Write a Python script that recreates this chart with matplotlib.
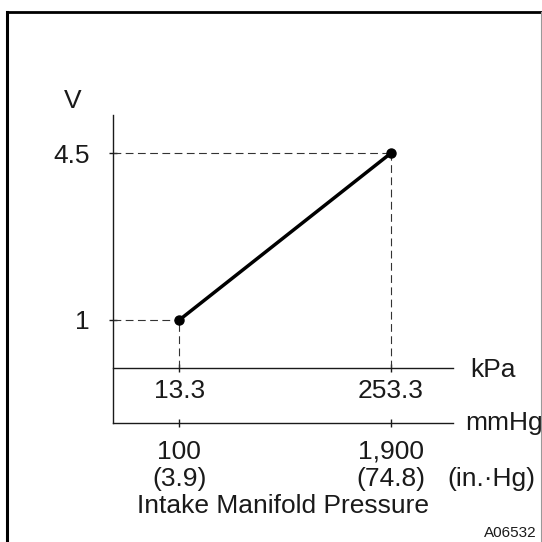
import matplotlib
matplotlib.use("Agg")
import matplotlib.pyplot as plt
from matplotlib.lines import Line2D

# values
kpa = [13.3, 253.3]
volts = [1, 4.5]
kpa_labels = ["13.3", "253.3"]
mmhg_labels = ["100", "1,900"]
inhg_labels = ["3.9", "74.8"]
volt_labels = ["1", "4.5"]

plt.rcParams['font.family'] = ['Liberation Sans', 'DejaVu Sans']
ink = '#1a1a1a'
fs = 19

fig = plt.figure(figsize=(5.42, 5.42), dpi=100)
ax = fig.add_axes([113 / 542, 119 / 542, 340 / 542, 308 / 542])
ax.set_xlim(-62.0, 324.0)
ax.set_ylim(-1.163, 5.304)

# dashed guides to each point
x0 = ax.get_xlim()[0]
for x, v in zip(kpa, volts):
    ax.plot([x0, x], [v, v], color='#333333', lw=0.8, ls=(0, (7, 4)))
    ax.plot([x, x], [0, v], color='#333333', lw=0.8, ls=(0, (7, 4)))

ax.plot(kpa, volts, color='black', lw=2.5, marker='o', ms=6.5,
        solid_capstyle='round')

for s in ['top', 'right']:
    ax.spines[s].set_visible(False)
ax.spines['bottom'].set_position(('data', 0))
ax.spines['bottom'].set_linewidth(1.0)
ax.spines['left'].set_linewidth(1.0)
ax.spines['bottom'].set_color(ink)
ax.spines['left'].set_color(ink)

ax.set_xticks(kpa, labels=kpa_labels)
ax.set_yticks(volts, labels=volt_labels)
ax.tick_params(axis='x', direction='inout', length=6, width=1, pad=5,
               labelsize=fs, colors=ink)
ax.tick_params(axis='y', direction='inout', length=6, width=1, pad=14,
               labelsize=fs, colors=ink)

# second scale (mmHg / in.Hg) under the kPa scale
ax2 = ax.twiny()
ax2.set_xlim(ax.get_xlim())
ax2.xaxis.set_ticks_position('bottom')
for s in ['top', 'right', 'left']:
    ax2.spines[s].set_visible(False)
ax2.spines['bottom'].set_linewidth(1.0)
ax2.spines['bottom'].set_color(ink)
ax2.set_xticks(kpa, labels=[f"{m}\n({i})" for m, i in zip(mmhg_labels, inhg_labels)])
ax2.tick_params(axis='x', direction='inout', length=6, width=1, pad=9,
                labelsize=fs, colors=ink)
for t in ax2.get_xticklabels():
    t.set_linespacing(1.15)

# unit names
fig.text(470 / 542, 1 - 370 / 542, "kPa", fontsize=fs, color=ink, ha='left', va='center')
fig.text(465 / 542, 1 - 423 / 542, "mmHg", fontsize=fs, color=ink, ha='left', va='center')
fig.text(491 / 542, 1 - 479 / 542, "(in.·Hg)", fontsize=fs, color=ink, ha='center', va='center')
fig.text(72.5 / 542, 1 - 101 / 542, "V", fontsize=fs, color=ink, ha='center', va='center')
fig.text(283 / 542, 1 - 506 / 542, "Intake Manifold Pressure", fontsize=fs, color=ink,
         ha='center', va='center')
fig.text(537 / 542, 1 - 533 / 542, "A06532", fontsize=11, color=ink, ha='right', va='center')

# outer frame of the figure
fig.add_artist(Line2D([7 / 542, 7 / 542], [0, 1 - 12 / 542], color='black', lw=2.2))
fig.add_artist(Line2D([7 / 542, 541 / 542], [1 - 12 / 542, 1 - 12 / 542], color='black', lw=2.0))
fig.add_artist(Line2D([540.5 / 542, 540.5 / 542], [0, 1 - 12 / 542], color='#999999', lw=0.8))

fig.savefig('out.png', dpi=100)
